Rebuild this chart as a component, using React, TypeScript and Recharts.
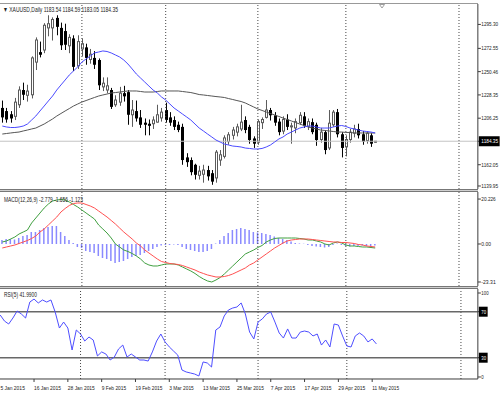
import React from "react";
import { ComposedChart, Bar, Line, XAxis, YAxis, ReferenceLine } from "recharts";

const FONT = "'Liberation Sans', Arial, sans-serif";

// XAUUSD daily, 6 Jan 2015 .. 12 May 2015 (bar 0 = 6 Jan)
const opens = [
  1216, 1213, 1210, 1208, 1219, 1233, 1228, 1228.5, 1259.5, 1269,
  1271, 1292, 1292, 1301.5, 1292, 1289, 1275, 1282, 1256, 1272,
  1273.5, 1262, 1263.5, 1261.5, 1236, 1233, 1233, 1219, 1221.5, 1230,
  1231, 1209.5, 1213, 1207, 1202, 1201, 1201, 1202.5, 1206.5, 1214,
  1207, 1204.5, 1200, 1198, 1169, 1166.5, 1162, 1152, 1153, 1157,
  1154, 1149.5, 1166.5, 1170, 1184, 1190, 1193, 1196, 1204.5, 1198,
  1187, 1183.5, 1202, 1207, 1214, 1209, 1203, 1194, 1205, 1198,
  1197, 1202, 1208, 1198.5, 1202.5, 1200, 1186, 1193, 1178, 1200,
  1212, 1191, 1179, 1186, 1192, 1196, 1191, 1185, 1190, 1183.54,
];
const highs = [
  1223, 1216, 1213, 1225.5, 1236.5, 1240, 1238, 1265, 1283, 1279,
  1296.5, 1304, 1302, 1304, 1297, 1296, 1286, 1285, 1285, 1282,
  1277, 1272, 1270, 1263, 1245, 1245, 1235, 1228, 1236, 1237,
  1233, 1223.5, 1223, 1214, 1206, 1205, 1208, 1219, 1216, 1221,
  1212, 1208, 1203, 1201, 1173, 1169, 1163, 1161, 1162, 1161,
  1157, 1176, 1176, 1190, 1193, 1198, 1201, 1219, 1208, 1200,
  1189, 1205, 1207, 1223.5, 1216, 1212, 1206, 1208, 1210, 1202,
  1206, 1212, 1212, 1206, 1206, 1202, 1197, 1195, 1214, 1214,
  1215, 1193, 1190, 1196, 1200, 1201, 1194, 1194, 1192, 1184.59,
];
const lows = [
  1202, 1202, 1202, 1204.5, 1216, 1223.5, 1222, 1225, 1252, 1264,
  1268, 1284, 1280, 1285, 1271, 1271, 1268, 1251, 1253, 1265,
  1257, 1258, 1253, 1233, 1232, 1230, 1215, 1217, 1218, 1222,
  1200, 1198, 1203, 1197, 1190, 1190, 1196, 1202, 1203, 1202,
  1199, 1195, 1193, 1162, 1160, 1152, 1148, 1148, 1145, 1147,
  1143, 1145, 1161, 1168, 1181, 1186, 1189, 1194, 1192, 1182,
  1178, 1181, 1196, 1206, 1204, 1199, 1190, 1191, 1195, 1182,
  1192, 1200, 1197, 1195, 1191, 1180, 1183, 1172, 1176, 1198,
  1188, 1169, 1170, 1183, 1188, 1187, 1181, 1182, 1179, 1183.05,
];
const closes = [
  1207, 1205, 1206, 1221.5, 1233, 1228.5, 1232, 1263.5, 1280.5, 1266.5,
  1294.5, 1296, 1300, 1293, 1275.5, 1276, 1283, 1255, 1279, 1277,
  1263.5, 1267, 1257, 1237.5, 1239.5, 1237, 1217, 1223.5, 1230, 1227,
  1209.5, 1214, 1206, 1200, 1200, 1199, 1204.5, 1209.5, 1212, 1204.5,
  1202, 1198, 1195, 1166.5, 1164.5, 1155, 1152.5, 1156, 1157, 1151,
  1146, 1174, 1171.5, 1187.5, 1190.5, 1195, 1198, 1202.5, 1195, 1185.5,
  1182, 1203, 1205, 1214, 1209, 1202, 1193, 1205, 1198, 1199,
  1203, 1209, 1199, 1203, 1193, 1185.5, 1193, 1176, 1201.5, 1212,
  1191, 1178, 1186, 1193, 1196, 1190, 1184, 1192, 1182, 1184.35,
];

// moving averages (blue = fast, grey = slow)
const maFast = [
  1198.8, 1197.9, 1197.4, 1197.4, 1197.9, 1198.8, 1200.7, 1204.5, 1208.3, 1213.1,
  1217.8, 1222.6, 1227.3, 1233.0, 1237.8, 1242.5, 1247.3, 1251.1, 1254.9, 1259.6,
  1262.5, 1265.3, 1268.2, 1269.1, 1270.1, 1269.6, 1268.2, 1266.3, 1264.4, 1261.5,
  1257.7, 1253.0, 1248.2, 1244.4, 1240.6, 1236.8, 1233.0, 1230.2, 1226.4, 1223.5,
  1219.7, 1215.9, 1213.1, 1210.2, 1207.4, 1204.5, 1200.7, 1196.9, 1194.1, 1191.2,
  1188.4, 1185.5, 1183.6, 1181.7, 1180.8, 1179.8, 1179.4, 1178.9, 1177.9, 1177.5,
  1177.0, 1177.0, 1177.5, 1178.9, 1180.8, 1183.6, 1186.5, 1188.4, 1191.2, 1193.1,
  1195.0, 1196.9, 1197.9, 1198.8, 1198.8, 1197.9, 1196.9, 1196.9, 1196.9, 1197.9,
  1198.8, 1199.3, 1198.4, 1196.9, 1196.0, 1195.0, 1194.1, 1193.6, 1193.1, 1192.2,
];
const maSlow = [
  1191.2, 1191.7, 1192.2, 1192.7, 1193.1, 1194.1, 1195.0, 1196.0, 1196.9, 1198.8,
  1200.7, 1203.1, 1205.5, 1208.3, 1210.7, 1213.1, 1215.4, 1217.8, 1219.7, 1221.6,
  1223.0, 1224.5, 1225.9, 1227.3, 1228.3, 1229.2, 1230.2, 1230.6, 1231.1, 1231.6,
  1232.1, 1232.1, 1232.1, 1231.6, 1231.1, 1231.1, 1231.1, 1231.6, 1232.1, 1232.1,
  1232.1, 1232.1, 1232.1, 1231.6, 1231.1, 1230.6, 1229.7, 1228.7, 1228.3, 1227.8,
  1227.3, 1226.8, 1226.4, 1225.9, 1224.9, 1224.0, 1223.0, 1222.1, 1220.7, 1218.8,
  1216.9, 1215.0, 1213.6, 1212.1, 1210.7, 1209.3, 1207.9, 1206.4, 1205.0, 1203.6,
  1202.1, 1200.7, 1199.3, 1197.9, 1196.9, 1196.0, 1195.0, 1194.6, 1194.1, 1193.6,
  1193.1, 1193.1, 1192.7, 1192.7, 1192.2, 1192.2, 1192.2, 1192.2, 1192.2, 1192.2,
];

// MACD(12,26,9)
const macdMain = [
  0.9, 1.35, 2.25, 3.15, 4.5, 5.4, 6.3, 9.45, 11.7, 13.95,
  16.2, 18.0, 19.35, 19.8, 20.03, 19.8, 18.9, 17.78, 16.65, 15.3,
  13.95, 12.6, 11.25, 8.55, 6.75, 4.95, 2.7, 0, -1.35, -2.7,
  -3.38, -4.28, -5.4, -6.75, -8.55, -9.45, -9.9, -9.9, -9.45, -9.0,
  -9.0, -9.0, -9.45, -10.35, -11.25, -12.15, -13.28, -14.63, -15.75, -16.65,
  -17.1, -16.2, -15.08, -13.5, -11.7, -9.9, -8.1, -6.3, -4.5, -3.6,
  -2.7, -1.58, -0.68, 0.9, 1.8, 2.48, 2.7, 2.7, 2.7, 2.7,
  2.7, 2.48, 2.25, 1.8, 1.8, 1.35, 0.9, 0, -0.45, 0.45,
  0.9, 0.45, -0.45, -0.9, -0.9, -1.13, -1.35, -1.35, -1.58, -1.8,
];
const macdSignal = [
  -1.8, -1.35, -0.9, -0.45, 0.23, 0.9, 1.58, 2.48, 3.6, 5.4,
  6.75, 8.55, 10.35, 12.15, 14.4, 15.98, 17.33, 18.23, 18.45, 18.45,
  17.78, 17.1, 16.2, 14.85, 13.5, 12.15, 10.58, 9.0, 7.2, 5.4,
  3.83, 2.25, 0.45, -0.9, -2.7, -4.05, -5.4, -6.75, -7.88, -8.33,
  -8.78, -9.0, -9.23, -9.68, -10.35, -11.03, -11.7, -12.6, -13.28, -13.95,
  -14.4, -14.85, -14.85, -14.63, -14.18, -13.5, -12.6, -11.7, -10.8, -9.45,
  -8.55, -7.2, -5.85, -4.5, -3.15, -1.8, -0.68, 0.45, 1.35, 1.8,
  2.03, 2.25, 2.25, 2.25, 2.03, 1.8, 1.58, 1.35, 1.13, 0.9,
  0.9, 0.68, 0.68, 0.45, 0.23, -0.23, -0.45, -0.9, -1.13, -1.35,
];
const macdHist = [
  1.8, 2.25, 2.25, 2.03, 2.7, 3.6, 4.05, 5.4, 5.4, 6.3,
  7.2, 7.65, 8.1, 8.1, 5.4, 3.6, 1.8, 0.45, -1.35, -1.8,
  -3.15, -3.6, -4.05, -5.4, -6.3, -6.75, -7.65, -8.55, -8.1, -7.65,
  -6.75, -5.85, -5.4, -4.95, -4.05, -3.15, -2.25, -1.35, -0.68, -0.45,
  -0.45, -0.23, -0.45, -1.35, -2.25, -2.7, -3.15, -3.6, -3.6, -3.15,
  -2.25, 0.2, 1.8, 3.6, 4.95, 6.3, 6.75, 7.2, 6.75, 6.3,
  5.4, 5.18, 4.95, 4.5, 4.05, 3.38, 2.7, 2.25, 1.8, 1.13,
  0.45, 0.23, 0.1, -0.45, -0.9, -1.13, -1.35, -1.58, -1.35, -0.45,
  0.23, -0.45, -0.9, -1.13, -0.9, -0.9, -0.68, -0.9, -0.9, -0.68,
];

// RSI(5)
const rsi = [
  67.1, 61.9, 59.3, 64.5, 70.6, 68.0, 64.5, 78.4, 81.0, 77.6,
  80.2, 78.4, 80.2, 69.7, 55.8, 61.0, 55.8, 36.7, 54.1, 50.6,
  44.5, 48.0, 45.4, 31.5, 35.0, 33.2, 28.0, 30.6, 37.6, 41.0,
  30.6, 33.2, 30.6, 28.0, 28.0, 27.1, 35.0, 44.5, 50.6, 43.7,
  39.4, 35.8, 32.3, 19.3, 17.6, 16.7, 15.8, 14.1, 26.3, 25.4,
  21.9, 54.1, 56.7, 66.3, 71.5, 73.2, 74.1, 77.6, 68.0, 52.3,
  46.3, 61.0, 63.7, 68.0, 69.7, 61.0, 51.5, 47.1, 55.0, 47.1,
  47.1, 52.3, 53.2, 52.3, 48.9, 50.6, 41.0, 45.4, 39.3, 59.3,
  58.4, 48.9, 40.2, 39.3, 48.9, 51.5, 48.9, 43.7, 46.3, 41.99,
];

// bottom time axis (bar index -1 is 5 Jan, just off the left edge)
const dateTickIdx = [-1, 8, 16, 24, 32, 40, 48, 56, 64, 72, 80, 88];
const dateTickText = [
  "5 Jan 2015", "16 Jan 2015", "28 Jan 2015", "9 Feb 2015", "19 Feb 2015", "3 Mar 2015",
  "13 Mar 2015", "25 Mar 2015", "7 Apr 2015", "17 Apr 2015", "29 Apr 2015", "11 May 2015",
];
const periodSeps = [19, 39, 61, 82, 109];

const priceTicks = [1295.3, 1272.55, 1250.46, 1228.35, 1206.25, 1184.35, 1162.05, 1139.95];
const lastPrice = 1184.35;
const macdTicks = [20.226, 0, -23.31];
const macdTickText = ["20.226", "0.00", "-23.31"];
const rsiTicks = [100, 70, 30, 0];
const rsiLevels = [70, 30];

const headMain = "\u25BC XAUUSD,Daily 1183.54 1184.59 1183.05 1184.35";
const headMacd = "MACD(12,26,9) -2.779 -1.656 -1.123";
const headRsi = "RSI(5) 41.9900";

// geometry
const SLOT = 4.19;
const FIRST = -1;
const LAST = 113;
const PLOT_W = SLOT * (LAST - FIRST + 1);
const AXIS_W = 22.03;
const CHART_LEFT = -3.885;
const CHART_W = PLOT_W + AXIS_W;
const AXIS_COL = "#3c3c3c";

const rows: any[] = [];
for (let i = FIRST; i <= LAST; i++) {
  const ok = i >= 0 && i < closes.length;
  rows.push({
    i,
    range: ok ? [lows[i], highs[i]] : null,
    o: ok ? opens[i] : null,
    h: ok ? highs[i] : null,
    l: ok ? lows[i] : null,
    c: ok ? closes[i] : null,
    fast: ok ? maFast[i] : null,
    slow: ok ? maSlow[i] : null,
    macd: ok ? macdMain[i] : null,
    signal: ok ? macdSignal[i] : null,
    hist: ok ? macdHist[i] : null,
    rsi: ok ? rsi[i] : null,
  });
}

function Candle(props: any) {
  const { x, y, width, height, payload } = props;
  if (!payload || payload.c == null) return null;
  const { o, h, l, c } = payload;
  const k = h > l ? height / (h - l) : 0;
  const left = Math.round(x + width / 2 - 1.5);
  const mid = left + 1.5;
  const at = (v: number) => y + (h - v) * k;
  const top = at(Math.max(o, c));
  const bh = Math.max(at(Math.min(o, c)) - top, 1);
  if (c >= o) {
    return (
      <g>
        <line x1={mid} x2={mid} y1={y} y2={y + height} stroke="#5a5a5a" />
        <rect x={left + 0.5} y={top} width={2} height={bh} fill="#fff" stroke="#5a5a5a" />
      </g>
    );
  }
  return (
    <g>
      <line x1={mid} x2={mid} y1={y} y2={y + height} stroke="#000" />
      <rect x={left} y={top} width={3} height={bh} fill="#000" />
    </g>
  );
}

// MT4 style price scale label, clamped inside its window
function sideTick(values: number[], texts: string[], boxed: number[], lo: number, hi: number) {
  return (p: any) => {
    const v = p.payload ? p.payload.value : null;
    const n = values.indexOf(v);
    if (n < 0) return <g />;
    const y = Math.min(Math.max(p.y, lo), hi);
    const t = texts[n];
    const w = t.length * 2.4;
    const box = boxed.includes(v);
    return (
      <g>
        <line x1={PLOT_W} x2={PLOT_W + 3} y1={y} y2={y} stroke={AXIS_COL} />
        {box && <rect x={PLOT_W + 1} y={y - 5} width={w + 4} height={10} fill="#000" />}
        <text x={PLOT_W + 3.5} y={y + 2} fontSize={5} fontFamily={FONT} fill={box ? "#fff" : "#222"}
          textLength={w} lengthAdjust="spacingAndGlyphs">{t}</text>
      </g>
    );
  };
}

function DateTick(p: any) {
  const n = dateTickIdx.indexOf(p.payload ? p.payload.value : null);
  if (n < 0) return <g />;
  const t = dateTickText[n];
  return (
    <g>
      <line x1={p.x} x2={p.x} y1={90} y2={93} stroke={AXIS_COL} />
      <text x={Math.max(p.x, 4.4)} y={101} fontSize={5.8} fontFamily={FONT} fill="#222"
        textLength={t.length * 2.45} lengthAdjust="spacingAndGlyphs">{t}</text>
    </g>
  );
}

const seps = (key: string) =>
  periodSeps.map((s) => (
    <ReferenceLine key={key + s} x={s} stroke="#444" strokeDasharray="1 2" />
  ));

const hiddenX = <XAxis dataKey="i" type="category" allowDuplicatedCategory={false} hide />;

export default function App() {
  const box = (top: number): React.CSSProperties => ({ position: "absolute", left: CHART_LEFT, top });
  return (
    <div style={{ position: "fixed", left: 0, top: 0, width: 500, height: 397, overflow: "hidden", background: "#fff" }}>
      <div style={box(4)}>
        <ComposedChart width={CHART_W} height={185} data={rows} margin={{ top: 0, right: 0, bottom: 0, left: 0 }}>
          {hiddenX}
          <YAxis orientation="right" width={AXIS_W} type="number" domain={[1139, 1314.7]} allowDataOverflow
            ticks={priceTicks} interval={0} tickLine={false} axisLine={{ stroke: AXIS_COL }}
            tick={sideTick(priceTicks, priceTicks.map((v) => v.toFixed(2)), [lastPrice], 3, 182)} />
          {seps("m")}
          <ReferenceLine y={lastPrice} stroke="#c4c4c4" />
          <Bar dataKey="range" barSize={3} shape={<Candle />} isAnimationActive={false} />
          <Line dataKey="slow" stroke="#555" strokeWidth={1} dot={false} isAnimationActive={false} />
          <Line dataKey="fast" stroke="#4a4aff" strokeWidth={1} dot={false} isAnimationActive={false} />
        </ComposedChart>
      </div>

      <div style={box(192)}>
        <ComposedChart width={CHART_W} height={94} data={rows} margin={{ top: 0, right: 0, bottom: 0, left: 0 }}>
          {hiddenX}
          <YAxis orientation="right" width={AXIS_W} type="number" domain={[-18.9, 23.4]} allowDataOverflow
            ticks={macdTicks} interval={0} tickLine={false} axisLine={{ stroke: AXIS_COL }}
            tick={sideTick(macdTicks, macdTickText, [], 6, 90)} />
          {seps("d")}
          <Bar dataKey="hist" barSize={1.5} fill="#8a8aff" isAnimationActive={false} />
          <Line dataKey="macd" stroke="#3f9f3f" strokeWidth={1} dot={false} isAnimationActive={false} />
          <Line dataKey="signal" stroke="#ff4f4f" strokeWidth={1} dot={false} isAnimationActive={false} />
        </ComposedChart>
      </div>

      <div style={box(289)}>
        <ComposedChart width={CHART_W} height={108} data={rows} margin={{ top: 0, right: 0, bottom: 0, left: 0 }}>
          <XAxis dataKey="i" type="category" allowDuplicatedCategory={false} height={18} interval={0}
            tickLine={false} axisLine={{ stroke: AXIS_COL }} tick={<DateTick />} />
          <YAxis orientation="right" width={AXIS_W} type="number" domain={[11.48, 89.74]} allowDataOverflow
            ticks={rsiTicks} interval={0} tickLine={false} axisLine={{ stroke: AXIS_COL }}
            tick={sideTick(rsiTicks, rsiTicks.map((v) => String(v)), rsiLevels, 4, 88)} />
          {seps("r")}
          {rsiLevels.map((v) => (
            <ReferenceLine key={v} y={v} stroke="#686868" strokeWidth={1.5} />
          ))}
          <Line dataKey="rsi" stroke="#4d4dff" strokeWidth={1} dot={false} isAnimationActive={false} />
        </ComposedChart>
      </div>

      <svg width={500} height={397} style={{ position: "absolute", left: 0, top: 0, pointerEvents: "none" }}>
        <line x1={0} x2={478} y1={3.5} y2={3.5} stroke="#999" />
        {[189, 286].map((y0) => (
          <g key={y0}>
            <line x1={0} x2={478} y1={y0 + 0.5} y2={y0 + 0.5} stroke="#777" />
            <line x1={0} x2={478} y1={y0 + 1.5} y2={y0 + 1.5} stroke="#cfcfcf" />
            <line x1={0} x2={478} y1={y0 + 2.5} y2={y0 + 2.5} stroke="#777" />
          </g>
        ))}
        <polygon points="379.5,4.5 384.5,4.5 382,8" fill="#fff" stroke="#888" strokeWidth={0.8} />
        <text x={3} y={12} fontSize={7} fontFamily={FONT} fill="#222" textLength={115} lengthAdjust="spacingAndGlyphs">{headMain}</text>
        <text x={4} y={202} fontSize={7} fontFamily={FONT} fill="#222" textLength={79} lengthAdjust="spacingAndGlyphs">{headMacd}</text>
        <text x={4} y={297} fontSize={7} fontFamily={FONT} fill="#222" textLength={33} lengthAdjust="spacingAndGlyphs">{headRsi}</text>
      </svg>
    </div>
  );
}
